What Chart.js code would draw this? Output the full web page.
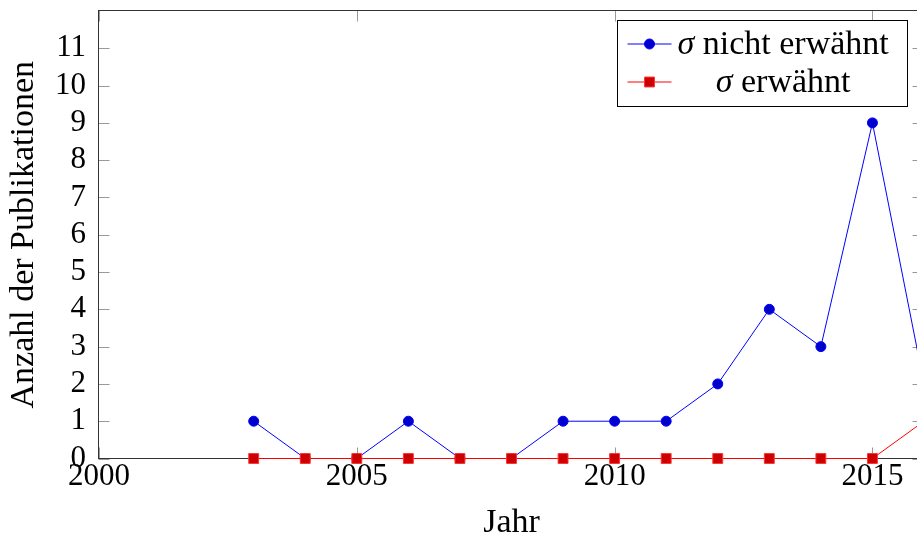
<!DOCTYPE html>
<html>
<head>
<meta charset="utf-8">
<script src="https://cdn.jsdelivr.net/npm/chart.js@4"></script>
<style>
html, body { margin: 0; padding: 0; background: #fff; overflow: hidden; }
#wrap { position: relative; width: 940px; height: 536px; }
</style>
</head>
<body>
<div id="wrap"><canvas id="myChart"></canvas></div>
<script>
// data
var years = [2003, 2004, 2005, 2006, 2007, 2008, 2009, 2010, 2011, 2012, 2013, 2014, 2015, 2016];
var nichtErwaehnt = [1, 0, 0, 1, 0, 0, 1, 1, 1, 2, 4, 3, 9, 2];
var erwaehnt = [0, 0, 0, 0, 0, 0, 0, 0, 0, 0, 0, 0, 0, 1];
var xTicks = [2000, 2005, 2010, 2015];
var yTicks = [0, 1, 2, 3, 4, 5, 6, 7, 8, 9, 10, 11];
var seriesNames = [' nicht erwähnt', ' erwähnt'];

var serif = '"Liberation Serif", "Times New Roman", serif';

function points(vals) {
    return years.map(function(y, i) { return { x: y, y: vals[i] }; });
}

// frame and inward tick marks, drawn under the lines
var framePlugin = {
    id: 'frame',
    beforeDatasetsDraw: function(chart) {
        var ctx = chart.ctx, ca = chart.chartArea;
        var xs = chart.scales.x, ys = chart.scales.y;
        var L = Math.round(ca.left) - 0.5, R = Math.round(ca.right) - 0.5;
        var T = Math.round(ca.top) - 0.5, B = Math.round(ca.bottom) - 0.5;
        var len = 11;
        ctx.save();
        ctx.lineWidth = 1;
        ctx.strokeStyle = '#999';
        ctx.beginPath();
        xTicks.forEach(function(v) {
            var px = Math.round(xs.getPixelForValue(v)) + 0.5;
            ctx.moveTo(px, B); ctx.lineTo(px, B - len);
            ctx.moveTo(px, T); ctx.lineTo(px, T + len);
        });
        yTicks.forEach(function(v) {
            var py = Math.round(ys.getPixelForValue(v)) + 0.5;
            ctx.moveTo(L, py); ctx.lineTo(L + len, py);
            ctx.moveTo(R, py); ctx.lineTo(R - len, py);
        });
        ctx.stroke();
        ctx.strokeStyle = '#333';
        ctx.strokeRect(L, T, R - L, B - T);
        ctx.restore();
    }
};

// pgfplots-style legend box in the upper right corner
var legendPlugin = {
    id: 'boxLegend',
    afterDatasetsDraw: function(chart) {
        var ctx = chart.ctx, ca = chart.chartArea;
        var w = 290, h = 86;
        var bx = Math.round(ca.right) - 17 - w + 0.5;
        var by = Math.round(ca.top) + 9 + 0.5;
        ctx.save();
        ctx.fillStyle = '#fff';
        ctx.fillRect(bx, by, w, h);
        ctx.strokeStyle = '#000';
        ctx.lineWidth = 1;
        ctx.strokeRect(bx, by, w, h);

        var rowY = [by + 23, by + 61];
        var textX = bx + 60;
        var italic = 'italic 34px ' + serif, roman = '34px ' + serif;
        ctx.font = italic;
        var sigmaW = ctx.measureText('σ').width;
        ctx.font = roman;
        var widths = seriesNames.map(function(s) { return sigmaW + ctx.measureText(s).width; });
        var center = textX + widths[0] / 2;

        chart.data.datasets.forEach(function(ds, i) {
            var y = rowY[i];
            ctx.strokeStyle = ds.borderColor;
            ctx.lineWidth = 1;
            ctx.beginPath();
            ctx.moveTo(bx + 10, y + 0.5);
            ctx.lineTo(bx + 54, y + 0.5);
            ctx.stroke();
            ctx.fillStyle = ds.pointBackgroundColor;
            ctx.strokeStyle = ds.pointBorderColor;
            Chart.helpers.drawPoint(ctx, {
                pointStyle: ds.pointStyle, radius: ds.pointRadius,
                borderWidth: ds.pointBorderWidth, rotation: 0
            }, bx + 32, y + 0.5);

            var x0 = center - widths[i] / 2;
            ctx.fillStyle = '#000';
            ctx.textBaseline = 'alphabetic';
            ctx.textAlign = 'left';
            ctx.font = italic;
            ctx.fillText('σ', x0, y + 10);
            ctx.font = roman;
            ctx.fillText(seriesNames[i], x0 + sigmaW, y + 10);
        });
        ctx.restore();
    }
};

var ctx = document.getElementById('myChart').getContext('2d');
var myChart = new Chart(ctx, {
    type: 'line',
    data: {
        datasets: [{
            label: 'σ nicht erwähnt',
            data: points(nichtErwaehnt),
            order: 1, // drawn first, red squares go on top
            borderColor: '#0000ff',
            borderWidth: 1,
            pointStyle: 'circle',
            pointRadius: 5,
            pointBorderWidth: 1,
            pointBackgroundColor: '#0000cc',
            pointBorderColor: '#0000ff',
            tension: 0,
            clip: false
        }, {
            label: 'σ erwähnt',
            data: points(erwaehnt),
            order: 0,
            borderColor: '#ff0000',
            borderWidth: 1,
            pointStyle: 'rect',
            pointRadius: 7,
            pointBorderWidth: 1,
            pointBackgroundColor: '#cc0000',
            pointBorderColor: '#ff3333',
            tension: 0,
            clip: false
        }]
    },
    options: {
        responsive: true,
        maintainAspectRatio: false,
        animation: false,
        events: [],
        layout: { padding: { top: 11, right: 16, left: 0, bottom: 0 } },
        plugins: {
            legend: { display: false },
            tooltip: { enabled: false }
        },
        scales: {
            x: {
                type: 'linear',
                min: 2000,
                max: 2016,
                afterBuildTicks: function(s) { s.ticks = xTicks.map(function(v) { return { value: v }; }); },
                afterFit: function(s) { s.height = 77.5; s.paddingLeft = 0; s.paddingRight = 0; },
                grid: { display: false, drawTicks: false },
                border: { display: false },
                ticks: {
                    autoSkip: false, maxRotation: 0, padding: 3, color: '#000',
                    font: { family: serif, size: 31, lineHeight: 1 },
                    callback: function(v) { return String(v); }
                },
                title: {
                    display: true, text: 'Jahr', color: '#000',
                    font: { family: serif, size: 34, lineHeight: 1 },
                    padding: { top: 0, bottom: -4 }
                }
            },
            y: {
                min: 0,
                max: 12,
                afterBuildTicks: function(s) { s.ticks = yTicks.map(function(v) { return { value: v }; }); },
                afterFit: function(s) { s.width = 99; s.paddingTop = 0; s.paddingBottom = 0; },
                grid: { display: false, drawTicks: false },
                border: { display: false },
                ticks: {
                    autoSkip: false, padding: 13, color: '#000',
                    font: { family: serif, size: 31, lineHeight: 1 },
                    callback: function(v) { return String(v); }
                },
                title: {
                    display: true, text: 'Anzahl der Publikationen', color: '#000',
                    font: { family: serif, size: 34, lineHeight: 1 },
                    padding: { top: 7, bottom: 0 }
                }
            }
        }
    },
    plugins: [framePlugin, legendPlugin]
});
</script>
</body>
</html>
